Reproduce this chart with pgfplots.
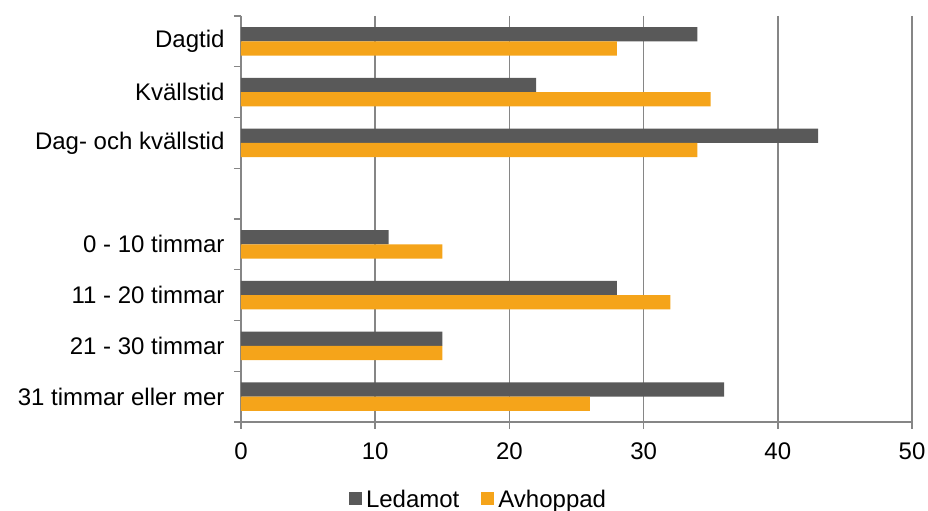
\documentclass[border=0pt]{standalone}
\usepackage{fontspec}
\setmainfont{Liberation Sans}
\usepackage{pgfplots}
\pgfplotsset{compat=1.18}
\usetikzlibrary{calc}
\definecolor{led}{RGB}{89,89,89}
\definecolor{avh}{RGB}{245,164,26}
\definecolor{axc}{RGB}{134,134,134}
\begin{document}
\begin{tikzpicture}
\begin{axis}[
  name=ax,
  scale only axis, width=671pt, height=406pt,
  xbar, bar width=0.28,
  xmin=0, xmax=50, ymin=-0.5, ymax=7.5, y dir=reverse,
  xtick={0,10,...,50},
  xmajorgrids, grid style={axc, line width=1.4pt},
  ytick={0,1,2,4,5,6,7},
  yticklabels={Dagtid,Kvällstid,Dag- och kvällstid,0 - 10 timmar,11 - 20 timmar,21 - 30 timmar,31 timmar eller mer},
  minor ytick={-0.5,0.5,...,7.5},
  axis x line*=bottom, axis y line*=left,
  axis line style={axc, line width=1.4pt, -},
  tick align=outside,
  major tick length=7pt, minor tick length=7pt,
  every major x tick/.style={axc, line width=1.4pt},
  every major y tick/.style={draw=none},
  every minor y tick/.style={axc, line width=1.4pt},
  tick label style={font=\fontsize{24}{28}\selectfont},
  /pgf/number format/assume math mode=true,
  yticklabel style={xshift=-6pt},
  xticklabel style={yshift=-10pt},
  legend style={draw=none, fill=none, legend columns=2,
    at={(axis description cs:0.354,-0.19)}, anchor=center,
    font=\fontsize{24}{28}\selectfont,
    /tikz/every even column/.append style={column sep=20pt}},
  legend image code/.code={\fill[#1] (0pt,-6pt) rectangle (13pt,7pt); \path (15pt,0pt);},
]
\addplot[fill=led, draw=none, bar shift=-0.14] coordinates {(34,0) (22,1) (43,2) (11,4) (28,5) (15,6) (36,7)};
\addplot[fill=avh, draw=none, bar shift=0.14] coordinates {(28,0) (35,1) (34,2) (15,4) (32,5) (15,6) (26,7)};
\legend{Ledamot,Avhoppad}
\end{axis}
\pgfresetboundingbox
\path[use as bounding box] ($(ax.south west)+(-241pt,-89pt)$) rectangle ($(ax.north east)+(16pt,16pt)$);
\end{tikzpicture}
\end{document}
